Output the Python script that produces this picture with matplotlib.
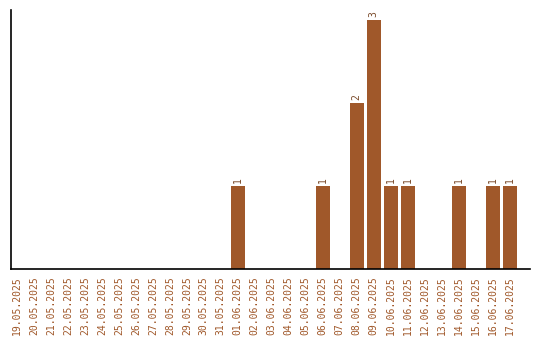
import matplotlib
matplotlib.use("Agg")
import matplotlib.pyplot as plt
import numpy as np

dates = ["19.05.2025", "20.05.2025", "21.05.2025", "22.05.2025", "23.05.2025",
         "24.05.2025", "25.05.2025", "26.05.2025", "27.05.2025", "28.05.2025",
         "29.05.2025", "30.05.2025", "31.05.2025", "01.06.2025", "02.06.2025",
         "03.06.2025", "04.06.2025", "05.06.2025", "06.06.2025", "07.06.2025",
         "08.06.2025", "09.06.2025", "10.06.2025", "11.06.2025", "12.06.2025",
         "13.06.2025", "14.06.2025", "15.06.2025", "16.06.2025", "17.06.2025"]
counts = [0, 0, 0, 0, 0, 0, 0, 0, 0, 0, 0, 0, 0, 1, 0,
          0, 0, 0, 1, 0, 2, 3, 1, 1, 0, 0, 1, 0, 1, 1]

bar_c = '#a0582a'
plt.rcParams['font.family'] = ['DejaVu Sans Mono']

fig = plt.figure(figsize=(5.4, 3.4), dpi=100)
ax = fig.add_axes([11/540, 1-269/340, 519/540, 259/340])

x = np.arange(len(dates))
ax.bar(x, counts, width=0.82, color=bar_c)
for i, v in enumerate(counts):
    if v > 0:
        ax.text(i, v + 0.03, str(v), rotation=90, ha='center', va='bottom',
                fontsize=7, color='#7a4a2a')

ax.set_xlim(-0.35, 30.2)
ax.set_ylim(0, 3.12)
ax.set_xticks(x)
ax.set_xticklabels(dates, rotation=90, fontsize=7, color=bar_c)
ax.tick_params(axis='x', length=0, pad=5)
ax.set_yticks([])
ax.spines['top'].set_visible(False)
ax.spines['right'].set_visible(False)
ax.spines['left'].set_linewidth(1.2)
ax.spines['bottom'].set_linewidth(1.2)

fig.savefig('out.png', dpi=100)
